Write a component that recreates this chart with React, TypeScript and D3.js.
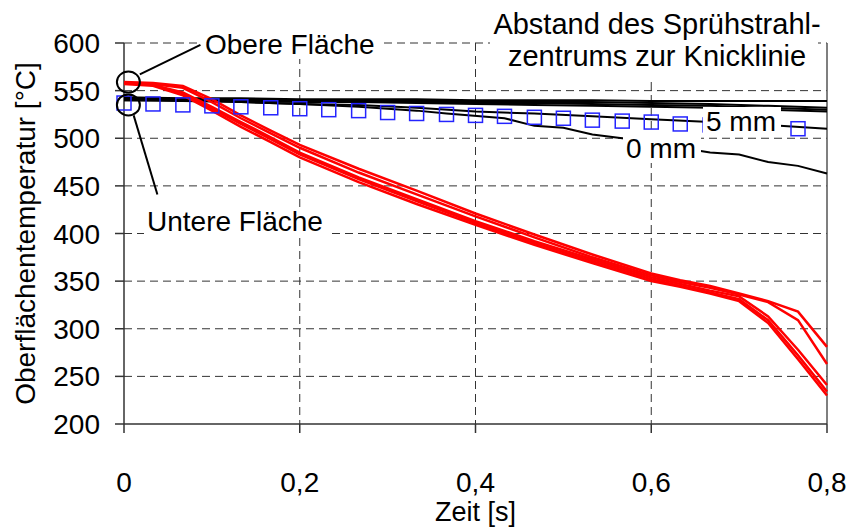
import React from 'react';
import * as d3 from 'd3';

// Zeitachse der Messwerte
const tRed = [0, 0.033, 0.067, 0.1, 0.133, 0.167, 0.2, 0.267, 0.333, 0.4, 0.467, 0.533, 0.6, 0.633, 0.667, 0.7, 0.733, 0.767, 0.8];
const tBlack = [0, 0.067, 0.133, 0.2, 0.267, 0.333, 0.4, 0.467, 0.533, 0.6, 0.667, 0.733, 0.8];
const tZeroMm = [0, 0.1, 0.2, 0.267, 0.333, 0.367, 0.433, 0.467, 0.5, 0.533, 0.567, 0.6, 0.633, 0.667, 0.7, 0.733, 0.767, 0.8];
const tSquares = [0, 0.033, 0.067, 0.1, 0.133, 0.167, 0.2, 0.233, 0.267, 0.3, 0.333, 0.367, 0.4, 0.433, 0.467, 0.5, 0.533, 0.567, 0.6, 0.633, 0.667, 0.7, 0.733, 0.767];

// Obere Fläche (rot)
const red1 = [559, 558, 555, 541, 524, 508, 493, 468, 445, 421, 399, 378, 358, 351, 345, 337, 329, 318, 281];
const red2 = [558, 557, 553, 538, 521, 505, 490, 464, 441, 418, 396, 375, 356, 349, 343, 336, 328, 309, 263];
const red3 = [558, 556, 548, 533, 517, 501, 485, 459, 436, 413, 392, 373, 354, 347, 340, 334, 313, 278, 241];
const red4 = [557, 555, 545, 529, 512, 496, 480, 454, 431, 409, 388, 369, 350, 344, 337, 329, 306, 268, 230];
const red5 = [558, 556, 546, 531, 515, 499, 483, 457, 434, 411, 390, 371, 352, 345, 338, 331, 309, 272, 234];

// Untere Fläche (schwarz)
const black1 = [543, 542, 542, 541, 541, 541, 540, 540, 540, 539, 539, 539, 539];
const black2 = [542, 541, 541, 540, 540, 539, 539, 538, 538, 537, 536, 534, 532];
const black3 = [541, 541, 540, 539, 539, 538, 537, 537, 536, 535, 534, 532, 530];
const black4 = [540, 540, 539, 538, 538, 537, 536, 535, 534, 533, 532, 530, 528];
const black5mm = [540, 539, 538, 536, 535, 532, 528, 526, 523, 520, 517, 514, 510];
const black0mm = [541, 539, 536, 533, 529, 526, 521, 513, 511, 504, 500, 496, 490, 485, 483, 475, 471, 463];

// blaue Quadrate
const squares = [537, 536, 535, 534, 533, 532, 531, 530, 529, 527, 526, 525, 524, 523, 522, 521, 519, 518, 517, 515, 514, 513, 511, 510];

const xTicks = [0, 0.2, 0.4, 0.6, 0.8];
const yTicks = [200, 250, 300, 350, 400, 450, 500, 550, 600];

const FONT = '"Liberation Sans", Arial, sans-serif';
const fmt = d3.formatLocale({ decimal: ',', thousands: '.', grouping: [3], currency: ['', ''] }).format('.1~f');

export default function App() {
    const width = 851;
    const height = 527;
    const plot = { left: 124, right: 827, top: 43, bottom: 424 };

    const x = d3.scaleLinear().domain([0, 0.8]).range([plot.left, plot.right]);
    const y = d3.scaleLinear().domain([200, 600]).range([plot.bottom, plot.top]);

    const line = d3.line<[number, number]>().x(d => x(d[0])).y(d => y(d[1]));
    const path = (ts: number[], vs: number[]) => line(ts.map((t, i) => [t, vs[i]] as [number, number])) || '';

    const reds = [red1, red2, red3, red4, red5];
    const blacks = [black1, black2, black3, black4, black5mm];

    // Beschriftung mit weissem Hintergrund
    const label = (txt: string, px: number, py: number, w: number) => (
        <g>
            <rect x={px - 3} y={py - 24} width={w + 6} height={29} fill="#fff" />
            <text x={px} y={py} fontSize={28}>{txt}</text>
        </g>
    );

    return (
        <svg width={width} height={height} style={{ position: 'absolute', left: 0, top: 0, background: '#fff' }} fontFamily={FONT}>
            {/* grid */}
            {yTicks.filter(v => v > 200).map(v => (
                <line key={'gy' + v} x1={plot.left} x2={plot.right} y1={y(v)} y2={y(v)} stroke="#333" strokeWidth={1} strokeDasharray="8,5" />
            ))}
            {xTicks.filter(v => v > 0 && v < 0.8).map(v => (
                <line key={'gx' + v} x1={x(v)} x2={x(v)} y1={plot.top} y2={plot.bottom} stroke="#333" strokeWidth={1} strokeDasharray="8,5" />
            ))}
            <line x1={x(0.8)} x2={x(0.8)} y1={plot.top} y2={plot.bottom} stroke="#555" strokeWidth={1.5} />

            {/* axes */}
            <line x1={plot.left} x2={plot.left} y1={plot.top} y2={plot.bottom} stroke="#333" strokeWidth={1.5} />
            <line x1={plot.left} x2={plot.right} y1={plot.bottom} y2={plot.bottom} stroke="#333" strokeWidth={1.5} />
            {yTicks.map(v => (
                <g key={'ty' + v}>
                    <line x1={plot.left - 9} x2={plot.left} y1={y(v)} y2={y(v)} stroke="#333" strokeWidth={1.5} />
                    <text x={plot.left - 24} y={y(v) + 10} textAnchor="end" fontSize={28}>{v}</text>
                </g>
            ))}
            {xTicks.map(v => (
                <g key={'tx' + v}>
                    <line x1={x(v)} x2={x(v)} y1={plot.bottom} y2={plot.bottom + 9} stroke="#333" strokeWidth={1.5} />
                    <text x={x(v)} y={492} textAnchor="middle" fontSize={28}>{fmt(v)}</text>
                </g>
            ))}
            <text x={(plot.left + plot.right) / 2} y={521} textAnchor="middle" fontSize={27}>Zeit [s]</text>
            <text transform={`translate(35,${(plot.top + plot.bottom) / 2}) rotate(-90)`} textAnchor="middle" fontSize={28}>Oberflächentemperatur [°C]</text>

            {/* series */}
            {blacks.map((vs, i) => (
                <path key={'b' + i} d={path(tBlack, vs)} fill="none" stroke="#000" strokeWidth={2} />
            ))}
            <path d={path(tZeroMm, black0mm)} fill="none" stroke="#000" strokeWidth={2} />
            {reds.map((vs, i) => (
                <path key={'r' + i} d={path(tRed, vs)} fill="none" stroke="#ff0000" strokeWidth={2.5} />
            ))}
            {squares.map((v, i) => (
                <rect key={'s' + i} x={x(tSquares[i]) - 7} y={y(v) - 7} width={14} height={14} fill="none" stroke="#2424ff" strokeWidth={1.5} />
            ))}

            {/* annotations */}
            <rect x={490} y={0} width={328} height={78} fill="#fff" />
            <text x={657} y={34} textAnchor="middle" fontSize={29}>Abstand des Sprühstrahl-</text>
            <text x={657} y={66} textAnchor="middle" fontSize={29}>zentrums zur Knicklinie</text>

            {label('5 mm', 706, 131, 72)}
            {label('0 mm', 626, 158, 72)}
            {label('Obere Fläche', 205, 54, 173)}
            {label('Untere Fläche', 147, 231, 180)}

            <ellipse cx={x(0.005)} cy={y(559)} rx={11.5} ry={10.5} fill="none" stroke="#000" strokeWidth={2} />
            <ellipse cx={x(0.005)} cy={y(535)} rx={11.5} ry={10.5} fill="none" stroke="#000" strokeWidth={2} />
            <line x1={x(0.018)} y1={y(567)} x2={x(0.087)} y2={y(598)} stroke="#000" strokeWidth={2} />
            <line x1={x(0.011)} y1={y(524)} x2={x(0.038)} y2={y(441)} stroke="#000" strokeWidth={2} />
        </svg>
    );
}
